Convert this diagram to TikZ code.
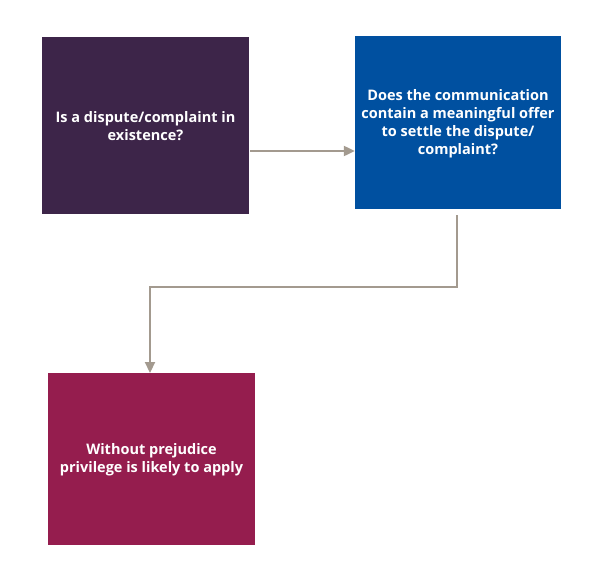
\documentclass[tikz,border=0pt]{standalone}
\usepackage{fontspec}
\setmainfont{Open Sans}
\usetikzlibrary{arrows.meta,calc}
\definecolor{cpurple}{HTML}{3D2549}
\definecolor{cblue}{HTML}{0050A0}
\definecolor{cmagenta}{HTML}{951D4E}
\definecolor{cline}{HTML}{A39A8F}
\begin{document}
\begin{tikzpicture}[x=1pt,y=-1pt,
  box/.style={minimum width=#1,inner sep=0pt,text=white,align=center,font=\fontsize{14.5}{18}\selectfont\bfseries},
  conn/.style={draw=cline,line width=2.2pt,-{Triangle[length=11pt,width=10pt]}}]
\useasboundingbox (0,0) rectangle (595,581);
\fill[cpurple] (42,37) rectangle (249,214);
\node[box=207pt,minimum height=177pt] (b1) at (145.5,126) {Is a dispute/complaint in\\existence?};
\fill[cblue] (355,36) rectangle (561,209);
\node[box=206pt,minimum height=173pt] (b2) at (458,124) {Does the communication\\contain a meaningful offer\\to settle the dispute/\\complaint?};
\fill[cmagenta] (48,373) rectangle (255,545);
\node[box=207pt,minimum height=172pt] (b3) at (151.5,460) {Without prejudice\\privilege is likely to apply};
\coordinate (s1) at (250,151);
\coordinate (s2) at (457,215);
\draw[conn] (s1) -- (s1 -| b2.west);
\draw[conn] (s2) |- (150,287) -- (150,373);
\end{tikzpicture}
\end{document}
